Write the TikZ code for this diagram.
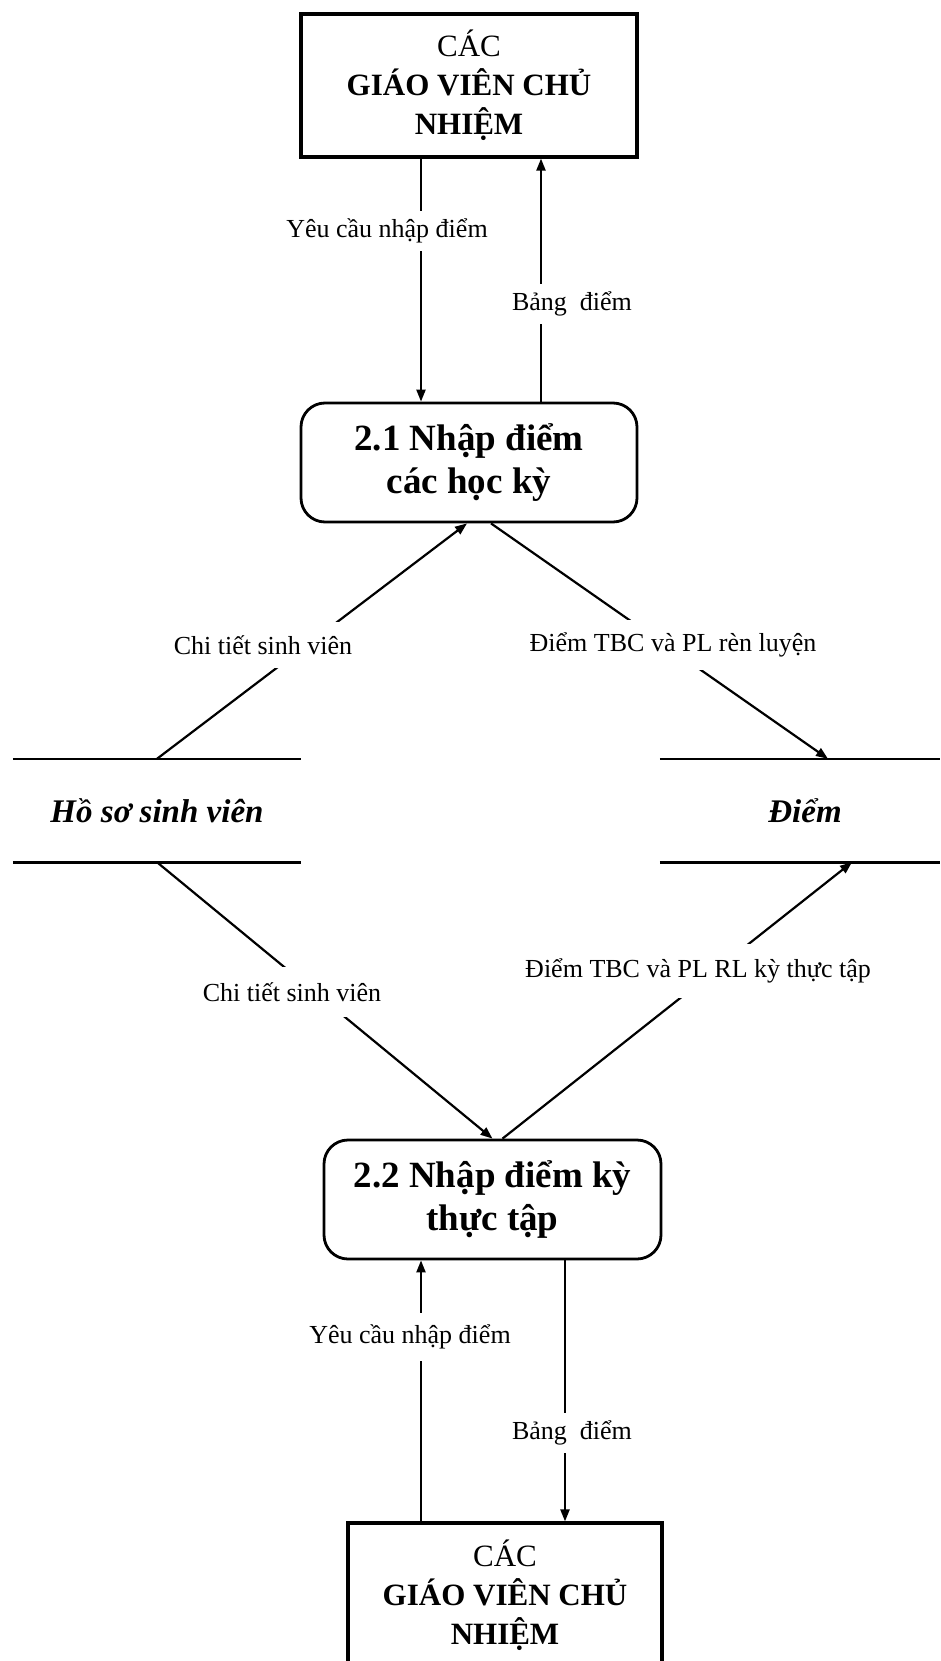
\documentclass[tikz,border=0pt]{standalone}
\usepackage{fontspec}
\setmainfont{Liberation Serif}
\usetikzlibrary{arrows.meta}
\begin{document}
\begin{tikzpicture}[x=1pt,y=-1pt,
  extbox/.style={draw,line width=3.2pt,inner sep=0pt,align=center,
    font=\fontsize{31}{39}\selectfont},
  procbox/.style={draw,line width=2.8pt,rounded corners=24pt,inner sep=0pt,
    align=center,font=\fontsize{37}{43}\selectfont\bfseries},
  storebox/.style={inner sep=0pt,minimum height=103pt,
    font=\fontsize{33}{38}\selectfont\bfseries\itshape},
  storeline/.style={line width=2.6pt},
  flow/.style={line width=2.2pt,-{Triangle[length=12pt,width=9pt]}},
  flowlabel/.style={fill=white,inner xsep=3pt,inner ysep=8pt,
    font=\fontsize{26}{30}\selectfont},
  slantlabel/.style={flowlabel,inner ysep=13pt},
]
\useasboundingbox (0,0) rectangle (940,1661);

% external entities
\node[extbox,minimum width=336pt,minimum height=143pt] (gv1) at (469,85.5)
  {CÁC\\\textbf{GIÁO VIÊN CHỦ}\\\textbf{NHIỆM}};
\node[extbox,minimum width=314pt,minimum height=145pt] (gv2) at (505,1595.5)
  {CÁC\\\textbf{GIÁO VIÊN CHỦ}\\\textbf{NHIỆM}};

% processes
\node[procbox,minimum width=336pt,minimum height=119pt] (p21) at (469,462.5)
  {2.1 Nhập điểm\\các học kỳ};
\node[procbox,minimum width=337pt,minimum height=119pt] (p22) at (492.5,1199.5)
  {2.2 Nhập điểm kỳ\\thực tập};

% data stores
\node[storebox,minimum width=288pt] (hs) at (157,810.5) {Hồ sơ sinh viên};
\node[storebox,minimum width=280pt] (diem) at (800,810.5) {\hspace*{10pt}Điểm};
\draw[storeline] (hs.north west) -- (hs.north east);
\draw[storeline] (hs.south west) -- (hs.south east);
\draw[storeline] (diem.north west) -- (diem.north east);
\draw[storeline] (diem.south west) -- (diem.south east);

% flows between teachers and process 2.1
\draw[flow] ([xshift=-48pt]gv1.south) -- ([xshift=-48pt]p21.north);
\draw[flow] ([xshift=72pt]p21.north) -- ([xshift=72pt]gv1.south);

% flows around the data stores
\draw[flow] (hs.north) -- ([xshift=-2pt]p21.south);
\draw[flow] ([xshift=22pt]p21.south) -- ([xshift=28pt]diem.north);
\draw[flow] (hs.south) -- (p22.north);
\draw[flow] ([xshift=10pt]p22.north) -- ([xshift=52pt]diem.south);

% flows between process 2.2 and teachers
\draw[flow] ([xshift=-84pt]gv2.north) -- ([xshift=-71.5pt]p22.south);
\draw[flow] ([xshift=72.5pt]p22.south) -- ([xshift=60pt]gv2.north);

% flow labels
\node[flowlabel] (l1) at (387,231) {Yêu cầu nhập điểm};
\node[flowlabel] (l2) at (572,304) {Bảng\ \ điểm};
\node[slantlabel] (l3) at (263,645) {Chi tiết sinh viên};
\node[slantlabel] (l4) at (673,645) {Điểm TBC và PL rèn luyện};
\node[slantlabel,inner ysep=15pt] (l5) at (292,992) {Chi tiết sinh viên};
\node[slantlabel,inner ysep=15pt] (l6) at (698,971) {Điểm TBC và PL RL kỳ thực tập};
\node[flowlabel,inner ysep=12pt] (l7) at (410,1337) {Yêu cầu nhập điểm};
\node[flowlabel] (l8) at (572,1433) {Bảng\ \ điểm};
\end{tikzpicture}
\end{document}
